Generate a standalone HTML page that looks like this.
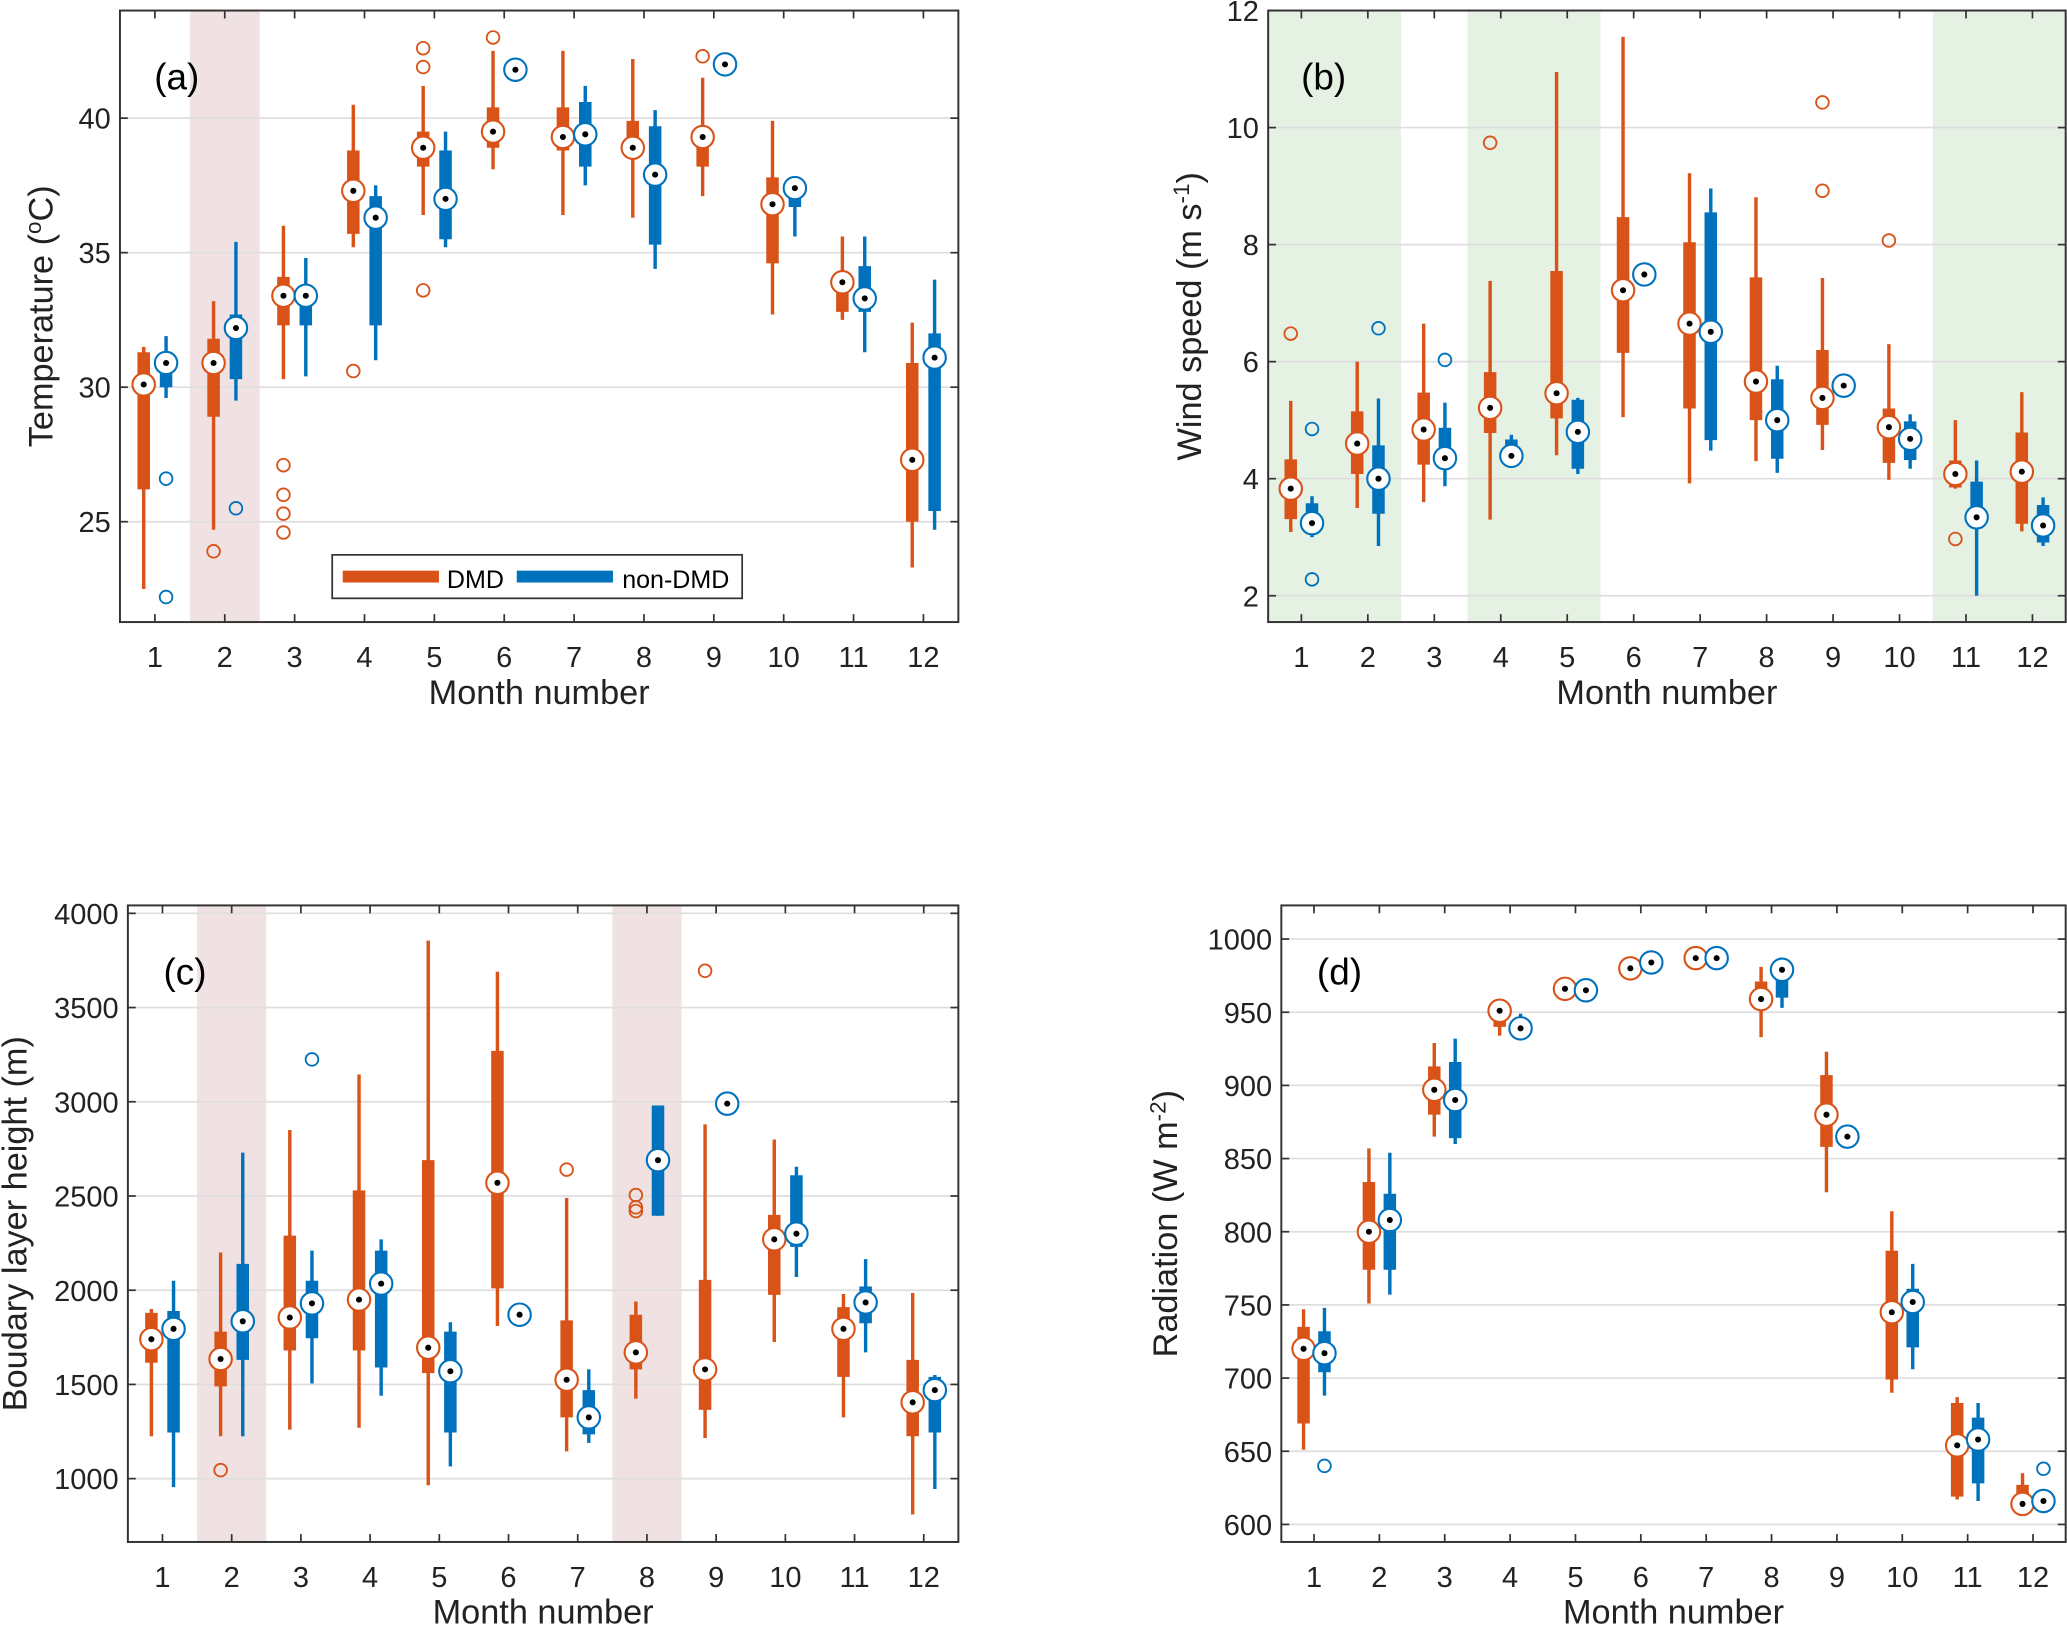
<!DOCTYPE html>
<html><head><meta charset="utf-8"><style>
html,body{margin:0;padding:0;background:#fff;}
svg{display:block;font-family:"Liberation Sans",sans-serif;}
</style></head><body>
<svg id="fig" width="2067" height="1625" viewBox="0 0 1568 1233" preserveAspectRatio="none" xmlns="http://www.w3.org/2000/svg"></svg>
<script>
const months=[1,2,3,4,5,6,7,8,9,10,11,12];
// Panel a: temperature
const tempDmdLow=[22.5,24.7,30.3,35.2,36.4,38.1,36.4,36.3,37.1,32.7,32.5,23.3];
const tempDmdQ1=[26.2,28.9,32.3,35.7,38.2,38.9,38.8,38.5,38.2,34.6,32.8,25.0];
const tempDmdMed=[30.1,30.9,33.4,37.3,38.9,39.5,39.3,38.9,39.3,36.8,33.9,27.3];
const tempDmdQ3=[31.3,31.8,34.1,38.8,39.5,40.4,40.4,39.9,39.7,37.8,34.3,30.9];
const tempDmdHigh=[31.5,33.2,36.0,40.5,41.2,42.5,42.5,42.2,41.5,39.9,35.6,32.4];
const tempDmdOut=[[],[23.9],[27.1,26.0,25.3,24.6],[30.6],[42.6,41.9,33.6],[43.0],[],[],[42.3],[],[],[]];
const tempNonLow=[29.6,29.5,30.4,31.0,35.2,41.8,37.5,34.4,42.0,35.6,31.3,24.7];
const tempNonQ1=[30.0,30.3,32.3,32.3,35.5,41.8,38.2,35.3,42.0,36.7,32.8,25.4];
const tempNonMed=[30.9,32.2,33.4,36.3,37.0,41.8,39.4,37.9,42.0,37.4,33.3,31.1];
const tempNonQ3=[31.3,32.7,33.6,37.1,38.8,41.8,40.6,39.7,42.0,37.7,34.5,32.0];
const tempNonHigh=[31.9,35.4,34.8,37.5,39.5,41.8,41.2,40.3,42.0,37.8,35.6,34.0];
const tempNonOut=[[26.6,22.2],[25.5],[],[],[],[],[],[],[],[],[],[]];
const tempTicks=[25,30,35,40];
// Panel b: wind speed
const windDmdLow=[3.09,3.5,3.6,3.3,4.4,5.05,3.92,4.3,4.49,3.98,3.83,3.1];
const windDmdQ1=[3.31,4.08,4.24,4.78,5.03,6.15,5.2,5.0,4.92,4.27,3.85,3.23];
const windDmdMed=[3.83,4.6,4.84,5.21,5.46,7.22,6.65,5.66,5.38,4.88,4.08,4.12];
const windDmdQ3=[4.33,5.15,5.47,5.82,7.55,8.47,8.04,7.44,6.2,5.2,4.31,4.79];
const windDmdHigh=[5.33,6.0,6.65,7.38,10.95,11.55,9.22,8.81,7.43,6.3,5.0,5.48];
const windDmdOut=[[6.48],[],[],[9.74],[],[],[],[],[10.43,8.92],[8.07],[2.97],[]];
const windNonLow=[3.0,2.85,3.87,4.3,4.08,7.49,4.48,4.1,5.59,4.17,2.0,2.85];
const windNonQ1=[3.15,3.4,4.32,4.33,4.17,7.49,4.66,4.34,5.59,4.32,3.15,2.91];
const windNonMed=[3.24,4.0,4.35,4.39,4.8,7.49,6.51,5.0,5.59,4.68,3.34,3.2];
const windNonQ3=[3.58,4.57,4.87,4.67,5.35,7.49,8.55,5.7,5.59,4.98,3.95,3.55];
const windNonHigh=[3.7,5.37,5.3,4.75,5.38,7.49,8.96,5.93,5.59,5.1,4.31,3.68];
const windNonOut=[[4.85,2.28],[6.57],[6.03],[],[],[],[],[],[],[],[],[]];
const windTicks=[2,4,6,8,10,12];
// Panel c: boundary layer height
const blhDmdLow=[1225,1225,1260,1270,965,1810,1145,1425,1215,1725,1325,810];
const blhDmdQ1=[1615,1490,1680,1680,1560,2010,1325,1580,1365,1975,1540,1225];
const blhDmdMed=[1740,1635,1855,1950,1695,2570,1525,1670,1580,2270,1795,1405];
const blhDmdQ3=[1880,1780,2290,2530,2690,3270,1840,1870,2055,2400,1910,1630];
const blhDmdHigh=[1900,2200,2850,3145,3855,3690,2490,1940,2880,2800,1980,1985];
const blhDmdOut=[[],[1045],[],[],[],[],[2640],[2505,2440,2420],[3695],[],[],[]];
const blhNonLow=[955,1225,1505,1440,1065,1870,1190,2395,2990,2070,1670,945];
const blhNonQ1=[1245,1630,1745,1590,1245,1870,1235,2395,2990,2230,1825,1245];
const blhNonMed=[1795,1835,1930,2035,1570,1870,1325,2690,2990,2300,1935,1470];
const blhNonQ3=[1890,2140,2050,2210,1780,1870,1470,2980,2990,2610,2020,1540];
const blhNonHigh=[2050,2730,2210,2270,1830,1870,1580,2980,2990,2655,2165,1550];
const blhNonOut=[[],[],[3225],[],[],[],[],[],[],[],[],[]];
const blhTicks=[1000,1500,2000,2500,3000,3500,4000];
// Panel d: radiation
const radDmdLow=[651,751,865,934,966,980,987,933,827,690,617,614];
const radDmdQ1=[669,774,880,940,966,980,987,953,858,699,619,614];
const radDmdMed=[720,800,897,951,966,980,987,959,880,745,654,614];
const radDmdQ3=[735,834,913,950,966,980,987,971,907,787,683,627];
const radDmdHigh=[747,857,929,957,966,980,987,981,923,814,687,635];
const radDmdOut=[[],[],[],[],[],[],[],[],[],[],[],[]];
const radNonLow=[688,757,860,938,965,984,987,953,865,706,616,616];
const radNonQ1=[704,774,864,940,965,984,987,960,865,721,628,616];
const radNonMed=[717,808,890,939,965,984,987,979,865,752,658,616];
const radNonQ3=[732,826,916,946,965,984,987,976,865,761,673,616];
const radNonHigh=[748,854,932,949,965,984,987,983,865,778,683,618];
const radNonOut=[[640],[],[],[],[],[],[],[],[],[],[],[638]];
const radTicks=[600,650,700,750,800,850,900,950,1000];

const ORANGE='#D95319', BLUE='#0072BD';
const NS='http://www.w3.org/2000/svg';
const svg=document.getElementById('fig');
function el(tag,attrs,parent,text){const e=document.createElementNS(NS,tag);for(const k in attrs)e.setAttribute(k,attrs[k]);if(text!==undefined)e.textContent=text;(parent||svg).appendChild(e);return e;}

function panel(cfg){
  const g=el('g',{});
  
  
  const {x0,x1,y0,y1,vmin,vmax}=cfg;
  const sx=m=>x0+(m-0.5)/12*(x1-x0);
  const sy=v=>y1-(v-vmin)/(vmax-vmin)*(y1-y0);
  // shading
  cfg.shade.forEach(r=>{
    const s=el('rect',{x:sx(r[0]-0.5),y:y0,width:sx(r[1]+0.5)-sx(r[0]-0.5),height:y1-y0,fill:cfg.shadeColor},g);
    
    
  });
  // grid + y ticks
  cfg.ticks.forEach(t=>{
    const y=sy(t);
    const gl=el('line',{x1:x0,x2:x1,y1:y,y2:y,stroke:'#dedede','stroke-width':1.3},g);
    
    
    el('line',{x1:x0,x2:x0+6,y1:y,y2:y,stroke:'#333','stroke-width':1.3},g);
    el('line',{x1:x1-6,x2:x1,y1:y,y2:y,stroke:'#333','stroke-width':1.3},g);
    const tl=el('text',{x:x0-7,y:y+8,'text-anchor':'end','font-size':22,fill:'#222'},g,String(t));
    
    
  });
  months.forEach(m=>{
    const x=sx(m);
    el('line',{x1:x,x2:x,y1:y1,y2:y1-6,stroke:'#333','stroke-width':1.3},g);
    el('line',{x1:x,x2:x,y1:y0,y2:y0+6,stroke:'#333','stroke-width':1.3},g);
    const tl=el('text',{x:x,y:y1+34,'text-anchor':'middle','font-size':22,fill:'#222'},g,String(m));
    
    
  });
  const fr=el('rect',{x:x0,y:y0,width:x1-x0,height:y1-y0,fill:'none',stroke:'#333','stroke-width':1.5},g);
  
  
  // boxes
  const series=[[cfg.dmd,ORANGE,-0.16,'dmd'],[cfg.non,BLUE,0.16,'non-dmd']];
  series.forEach(([d,col,off,nm])=>{
    months.forEach((m,i)=>{
      const x=sx(m+off);
      const bg=el('g',{},g);
      
      
      el('line',{x1:x,x2:x,y1:sy(d[0][i]),y2:sy(d[4][i]),stroke:col,'stroke-width':2.6},bg);
      el('line',{x1:x,x2:x,y1:sy(d[1][i]),y2:sy(d[3][i]),stroke:col,'stroke-width':9.5},bg);
      d[5][i].forEach(o=>{
        const oc=el('circle',{cx:x,cy:sy(o),r:4.8,fill:'none',stroke:col,'stroke-width':1.4},bg);
        
        
      });
      el('circle',{cx:x,cy:sy(d[2][i]),r:8.5,fill:'#fff',stroke:col,'stroke-width':1.6},bg);
      el('circle',{cx:x,cy:sy(d[2][i]),r:2.3,fill:'#000'},bg);
    });
  });
  // labels
  const xl=el('text',{x:(x0+x1)/2,y:y1+62,'text-anchor':'middle','font-size':26,fill:'#222'},g,'Month number');
  
  
  const yl=el('text',{x:0,y:0,'text-anchor':'middle','font-size':26,fill:'#222',transform:`translate(${cfg.ylx},${(y0+y1)/2}) rotate(-90)`},g);
  
  
  yl.innerHTML=cfg.ylabel;
  const pl=el('text',{x:cfg.lx,y:y0+60,'font-size':28,fill:'#000'},g,cfg.letter);
  
  
  return g;
}

panel({name:'temperature-panel',x0:91,x1:727,y0:8,y1:472,vmin:21.27,vmax:44.0,ticks:tempTicks,
  shade:[[2,2]],shadeColor:'#f0e2e2',lx:117,ylx:40,letter:'(a)',
  ylabel:'Temperature (<tspan dy="-9" font-size="17">o</tspan><tspan dy="9">C)</tspan>',
  dmd:[tempDmdLow,tempDmdQ1,tempDmdMed,tempDmdQ3,tempDmdHigh,tempDmdOut],
  non:[tempNonLow,tempNonQ1,tempNonMed,tempNonQ3,tempNonHigh,tempNonOut]});
panel({name:'wind-speed-panel',x0:962,x1:1567,y0:8,y1:472,vmin:1.55,vmax:12.0,ticks:windTicks,
  shade:[[1,2],[4,5],[11,12]],shadeColor:'#e5f1e3',lx:987,ylx:911,letter:'(b)',
  ylabel:'Wind speed (m s<tspan dy="-9" font-size="17">-1</tspan><tspan dy="9">)</tspan>',
  dmd:[windDmdLow,windDmdQ1,windDmdMed,windDmdQ3,windDmdHigh,windDmdOut],
  non:[windNonLow,windNonQ1,windNonMed,windNonQ3,windNonHigh,windNonOut]});
panel({name:'boundary-layer-panel',x0:97,x1:727,y0:687,y1:1170,vmin:664,vmax:4042,ticks:blhTicks,
  shade:[[2,2],[8,8]],shadeColor:'#f0e2e2',lx:124,ylx:20,letter:'(c)',
  ylabel:'Boudary layer height (m)',
  dmd:[blhDmdLow,blhDmdQ1,blhDmdMed,blhDmdQ3,blhDmdHigh,blhDmdOut],
  non:[blhNonLow,blhNonQ1,blhNonMed,blhNonQ3,blhNonHigh,blhNonOut]});
panel({name:'radiation-panel',x0:972,x1:1567,y0:687,y1:1170,vmin:588,vmax:1023,ticks:radTicks,
  shade:[],shadeColor:'#fff',lx:999,ylx:893,letter:'(d)',
  ylabel:'Radiation (W m<tspan dy="-9" font-size="17">-2</tspan><tspan dy="9">)</tspan>',
  dmd:[radDmdLow,radDmdQ1,radDmdMed,radDmdQ3,radDmdHigh,radDmdOut],
  non:[radNonLow,radNonQ1,radNonMed,radNonQ3,radNonHigh,radNonOut]});

// legend
const lg=el('g',{});


el('rect',{x:252,y:421,width:311,height:33,fill:'#fff',stroke:'#333','stroke-width':1.3},lg);
el('rect',{x:260,y:433,width:73,height:9,fill:ORANGE},lg);
const t1=el('text',{x:339,y:446,'font-size':19,fill:'#000'},lg,'DMD');


el('rect',{x:392,y:433,width:73,height:9,fill:BLUE},lg);
const t2=el('text',{x:472,y:446,'font-size':19,fill:'#000'},lg,'non-DMD');


</script>
</body></html>
